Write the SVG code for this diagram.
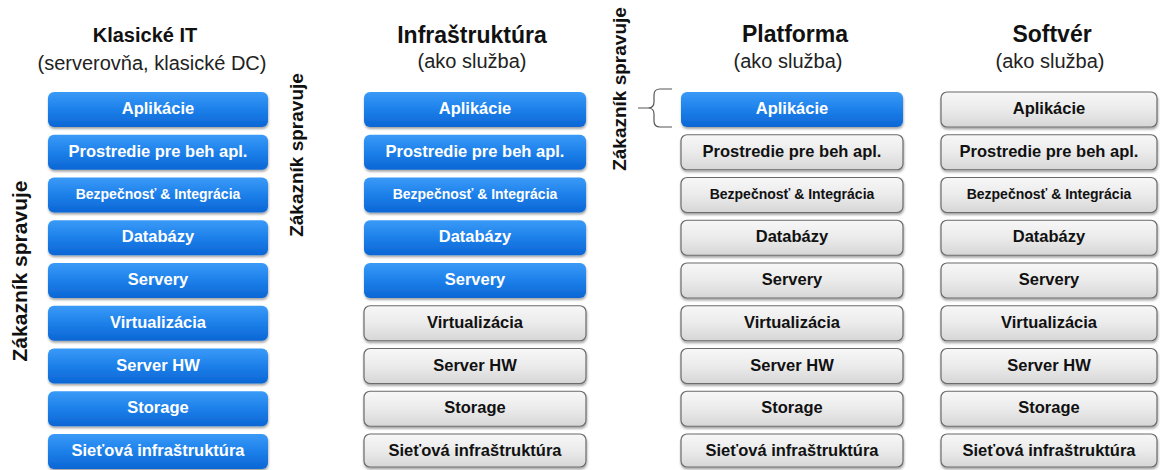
<svg xmlns="http://www.w3.org/2000/svg" width="1160" height="470" viewBox="0 0 1160 470">
<defs>
<linearGradient id="gBlue" x1="0" y1="0" x2="0" y2="1">
<stop offset="0" stop-color="#3a9af7"/>
<stop offset="0.5" stop-color="#1d80ea"/>
<stop offset="1" stop-color="#0b66d4"/>
</linearGradient>
<linearGradient id="gGray" x1="0" y1="0" x2="0" y2="1">
<stop offset="0" stop-color="#f7f7f7"/>
<stop offset="0.5" stop-color="#ebebeb"/>
<stop offset="1" stop-color="#d6d6d6"/>
</linearGradient>
<filter id="sh" x="-5%" y="-20%" width="110%" height="150%">
<feDropShadow dx="0.5" dy="2" stdDeviation="1.3" flood-color="#000" flood-opacity="0.35"/>
</filter>
</defs>
<style>
.blue{fill:url(#gBlue);filter:url(#sh)}
.gray{fill:url(#gGray);stroke:#6b6b6b;stroke-width:1.2;filter:url(#sh)}
text{font-family:"Liberation Sans",Arial,sans-serif}
.tw{fill:#ffffff;font-weight:bold;font-size:16.5px;text-anchor:middle}
.tb{fill:#111111;font-weight:bold;font-size:16.5px;text-anchor:middle}
.sm{font-size:14px}
.h1{fill:#111;font-weight:bold;font-size:20px;text-anchor:middle}
.h2{fill:#111;font-weight:bold;font-size:23px;text-anchor:middle}
.sub{fill:#222;font-size:20px;text-anchor:middle}
.vl{fill:#111;font-weight:bold;text-anchor:middle}
.br{fill:none;stroke:#555;stroke-width:1.2}
</style>
<rect width="1160" height="470" fill="#ffffff"/>

<!-- Headers -->
<g id="header-klasicke">
<text class="h1" x="145" y="42">Klasické IT</text>
<text class="sub" x="152" y="70">(serverovňa, klasické DC)</text>
</g>
<g id="header-iaas">
<text class="h2" x="472" y="43">Infraštruktúra</text>
<text class="sub" x="472" y="68">(ako služba)</text>
</g>
<g id="header-paas">
<text class="h2" x="795" y="42">Platforma</text>
<text class="sub" x="788" y="68">(ako služba)</text>
</g>
<g id="header-saas">
<text class="h2" x="1052" y="42">Softvér</text>
<text class="sub" x="1050" y="68">(ako služba)</text>
</g>

<!-- Vertical labels -->
<g id="label-klasicke">
<text class="vl" font-size="21" transform="translate(27,271) rotate(-90)">Zákazník spravuje</text>
</g>
<g id="label-iaas">
<text class="vl" font-size="19" transform="translate(303,155) rotate(-90)">Zákazník spravuje</text>
</g>
<g id="label-paas">
<text class="vl" font-size="19" transform="translate(626,89) rotate(-90)">Zákazník spravuje</text>
</g>

<!-- Column 1: Klasické IT -->
<g id="c1-aplikacie"><rect class="blue" x="48" y="92" width="220" height="35" rx="6"/><text class="tw" x="158" y="114">Aplikácie</text></g>
<g id="c1-prostredie"><rect class="blue" x="48" y="134.75" width="220" height="35" rx="6"/><text class="tw" x="158" y="156.75">Prostredie pre beh apl.</text></g>
<g id="c1-bezpecnost"><rect class="blue" x="48" y="177.5" width="220" height="35" rx="6"/><text class="tw sm" x="158" y="199">Bezpečnosť &amp; Integrácia</text></g>
<g id="c1-databazy"><rect class="blue" x="48" y="220.25" width="220" height="35" rx="6"/><text class="tw" x="158" y="242.25">Databázy</text></g>
<g id="c1-servery"><rect class="blue" x="48" y="263" width="220" height="35" rx="6"/><text class="tw" x="158" y="285">Servery</text></g>
<g id="c1-virtualizacia"><rect class="blue" x="48" y="305.75" width="220" height="35" rx="6"/><text class="tw" x="158" y="327.75">Virtualizácia</text></g>
<g id="c1-serverhw"><rect class="blue" x="48" y="348.5" width="220" height="35" rx="6"/><text class="tw" x="158" y="370.5">Server HW</text></g>
<g id="c1-storage"><rect class="blue" x="48" y="391.25" width="220" height="35" rx="6"/><text class="tw" x="158" y="413.25">Storage</text></g>
<g id="c1-siet"><rect class="blue" x="48" y="434" width="220" height="35" rx="6"/><text class="tw" x="158" y="456">Sieťová infraštruktúra</text></g>

<!-- Column 2: Infraštruktúra -->
<g id="c2-aplikacie"><rect class="blue" x="364" y="92" width="222" height="35" rx="6"/><text class="tw" x="475" y="114">Aplikácie</text></g>
<g id="c2-prostredie"><rect class="blue" x="364" y="134.75" width="222" height="35" rx="6"/><text class="tw" x="475" y="156.75">Prostredie pre beh apl.</text></g>
<g id="c2-bezpecnost"><rect class="blue" x="364" y="177.5" width="222" height="35" rx="6"/><text class="tw sm" x="475" y="199">Bezpečnosť &amp; Integrácia</text></g>
<g id="c2-databazy"><rect class="blue" x="364" y="220.25" width="222" height="35" rx="6"/><text class="tw" x="475" y="242.25">Databázy</text></g>
<g id="c2-servery"><rect class="blue" x="364" y="263" width="222" height="35" rx="6"/><text class="tw" x="475" y="285">Servery</text></g>
<g id="c2-virtualizacia"><rect class="gray" x="364" y="305.75" width="222" height="35" rx="6"/><text class="tb" x="475" y="327.75">Virtualizácia</text></g>
<g id="c2-serverhw"><rect class="gray" x="364" y="348.5" width="222" height="35" rx="6"/><text class="tb" x="475" y="370.5">Server HW</text></g>
<g id="c2-storage"><rect class="gray" x="364" y="391.25" width="222" height="35" rx="6"/><text class="tb" x="475" y="413.25">Storage</text></g>
<g id="c2-siet"><rect class="gray" x="364" y="434" width="222" height="33" rx="6"/><text class="tb" x="475" y="455.5">Sieťová infraštruktúra</text></g>

<!-- Column 3: Platforma -->
<g id="c3-aplikacie"><rect class="blue" x="681" y="92" width="222" height="35" rx="6"/><text class="tw" x="792" y="114">Aplikácie</text></g>
<g id="c3-prostredie"><rect class="gray" x="681" y="134.75" width="222" height="35" rx="6"/><text class="tb" x="792" y="156.75">Prostredie pre beh apl.</text></g>
<g id="c3-bezpecnost"><rect class="gray" x="681" y="177.5" width="222" height="35" rx="6"/><text class="tb sm" x="792" y="199">Bezpečnosť &amp; Integrácia</text></g>
<g id="c3-databazy"><rect class="gray" x="681" y="220.25" width="222" height="35" rx="6"/><text class="tb" x="792" y="242.25">Databázy</text></g>
<g id="c3-servery"><rect class="gray" x="681" y="263" width="222" height="35" rx="6"/><text class="tb" x="792" y="285">Servery</text></g>
<g id="c3-virtualizacia"><rect class="gray" x="681" y="305.75" width="222" height="35" rx="6"/><text class="tb" x="792" y="327.75">Virtualizácia</text></g>
<g id="c3-serverhw"><rect class="gray" x="681" y="348.5" width="222" height="35" rx="6"/><text class="tb" x="792" y="370.5">Server HW</text></g>
<g id="c3-storage"><rect class="gray" x="681" y="391.25" width="222" height="35" rx="6"/><text class="tb" x="792" y="413.25">Storage</text></g>
<g id="c3-siet"><rect class="gray" x="681" y="434" width="222" height="33" rx="6"/><text class="tb" x="792" y="455.5">Sieťová infraštruktúra</text></g>

<!-- Column 4: Softvér -->
<g id="c4-aplikacie"><rect class="gray" x="941" y="92" width="216" height="35" rx="6"/><text class="tb" x="1049" y="114">Aplikácie</text></g>
<g id="c4-prostredie"><rect class="gray" x="941" y="134.75" width="216" height="35" rx="6"/><text class="tb" x="1049" y="156.75">Prostredie pre beh apl.</text></g>
<g id="c4-bezpecnost"><rect class="gray" x="941" y="177.5" width="216" height="35" rx="6"/><text class="tb sm" x="1049" y="199" font-weight="normal">Bezpečnosť &amp; Integrácia</text></g>
<g id="c4-databazy"><rect class="gray" x="941" y="220.25" width="216" height="35" rx="6"/><text class="tb" x="1049" y="242.25">Databázy</text></g>
<g id="c4-servery"><rect class="gray" x="941" y="263" width="216" height="35" rx="6"/><text class="tb" x="1049" y="285">Servery</text></g>
<g id="c4-virtualizacia"><rect class="gray" x="941" y="305.75" width="216" height="35" rx="6"/><text class="tb" x="1049" y="327.75">Virtualizácia</text></g>
<g id="c4-serverhw"><rect class="gray" x="941" y="348.5" width="216" height="35" rx="6"/><text class="tb" x="1049" y="370.5">Server HW</text></g>
<g id="c4-storage"><rect class="gray" x="941" y="391.25" width="216" height="35" rx="6"/><text class="tb" x="1049" y="413.25">Storage</text></g>
<g id="c4-siet"><rect class="gray" x="941" y="434" width="216" height="33" rx="6"/><text class="tb" x="1049" y="455.5">Sieťová infraštruktúra</text></g>

<!-- Connectors -->
<g id="connectors">
<path class="br" d="M672,89 L660,89 Q654,89 654,95 L654,102 Q654,108 648,108 L638,108 M648,108 Q654,108 654,114 L654,121 Q654,127 660,127 L672,127"/>
</g>
</svg>
